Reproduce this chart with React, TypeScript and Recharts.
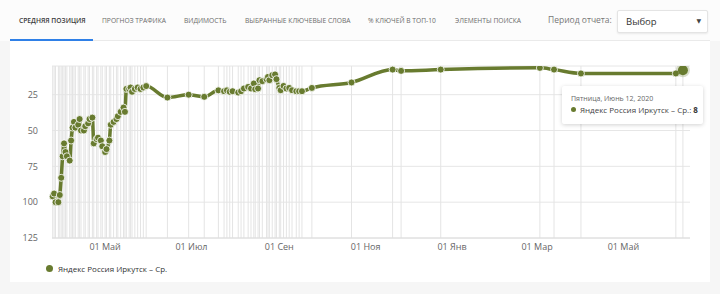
import { LineChart, Line, XAxis, YAxis, CartesianGrid, ReferenceLine, Tooltip } from 'recharts';

const tabs = ['СРЕДНЯЯ ПОЗИЦИЯ', 'ПРОГНОЗ ТРАФИКА', 'ВИДИМОСТЬ', 'ВЫБРАННЫЕ КЛЮЧЕВЫЕ СЛОВА', '% КЛЮЧЕЙ В ТОП-10', 'ЭЛЕМЕНТЫ ПОИСКА'];
const tabLeft = [19, 102, 184, 245, 368, 455];
const seriesName = 'Яндекс Россия Иркутск – Ср.';

const dates = [
    '2019-03-25', '2019-03-26', '2019-03-27', '2019-03-29', '2019-03-30', '2019-03-31', '2019-04-01', '2019-04-02',
    '2019-04-03', '2019-04-04', '2019-04-06', '2019-04-07', '2019-04-08', '2019-04-09', '2019-04-10', '2019-04-12',
    '2019-04-13', '2019-04-14', '2019-04-16', '2019-04-17', '2019-04-19', '2019-04-20', '2019-04-22', '2019-04-23',
    '2019-04-25', '2019-04-26', '2019-04-28', '2019-04-29', '2019-05-01', '2019-05-02', '2019-05-04', '2019-05-05',
    '2019-05-07', '2019-05-09', '2019-05-10', '2019-05-12', '2019-05-14', '2019-05-15', '2019-05-16', '2019-05-18',
    '2019-05-19', '2019-05-20', '2019-05-22', '2019-05-24', '2019-05-26', '2019-05-28', '2019-05-30',
    '2019-06-14', '2019-06-29', '2019-07-10', '2019-07-20',
    '2019-07-24', '2019-07-26', '2019-07-28', '2019-07-30', '2019-08-03', '2019-08-05', '2019-08-07', '2019-08-10',
    '2019-08-12', '2019-08-14', '2019-08-15', '2019-08-17', '2019-08-18', '2019-08-20', '2019-08-23', '2019-08-24',
    '2019-08-25', '2019-08-27', '2019-08-29', '2019-08-30', '2019-09-01', '2019-09-02', '2019-09-04', '2019-09-06',
    '2019-09-08', '2019-09-10', '2019-09-13', '2019-09-15', '2019-09-17',
    '2019-09-24', '2019-10-22', '2019-11-20', '2019-11-26', '2019-12-24', '2020-03-03', '2020-03-13', '2020-04-01',
    '2020-06-07', '2020-06-12',
];

const positions = [
    96, 94, 100, 100, 95, 83, 68, 59,
    65, 68, 71, 57, 48, 44, 48, 46,
    42, 50, 50, 47, 45, 42, 41, 59,
    56, 55, 57, 61, 65, 63, 57, 46,
    44, 42, 40, 37, 34, 37, 21, 21,
    20, 23, 21, 20, 21, 20, 19,
    27, 25, 26.5, 22,
    22.6, 22, 23, 22.6, 23.5, 22.6, 20.7, 19.6,
    20.7, 17.2, 21.2, 20.7, 14.9, 15.6, 14.2, 12.6,
    14.9, 11.4, 10.9, 14.2, 20.3, 21.9, 18.9, 20.7,
    20.3, 21.9, 22.6, 22.6, 22.6,
    20.3, 16.5, 7.5, 8.4, 7.5, 6.3, 7.5, 10.2,
    10.2, 8,
];

const monthTicks = ['2019-05-01', '2019-07-01', '2019-09-01', '2019-11-01', '2020-01-01', '2020-03-01', '2020-05-01'];
const monthLabels = ['01 Май', '01 Июл', '01 Сен', '01 Ноя', '01 Янв', '01 Мар', '01 Май'];
const yTicks = [25, 50, 75, 100, 125];

const weekdayNames = ['Воскресенье', 'Понедельник', 'Вторник', 'Среда', 'Четверг', 'Пятница', 'Суббота'];
const monthNames = ['Январь', 'Февраль', 'Март', 'Апрель', 'Май', 'Июнь', 'Июль', 'Август', 'Сентябрь', 'Октябрь', 'Ноябрь', 'Декабрь'];

const LINE = '#687b2f';
const FONT = '"Open Sans", "DejaVu Sans", sans-serif';

const toTs = (s: string) => {
    const [y, m, d] = s.split('-').map(Number);
    return Date.UTC(y, m - 1, d);
};

const data = dates.map((d, i) => ({ t: toTs(d), pos: positions[i] }));
const tickTs = monthTicks.map(toTs);
const domainX = [Date.UTC(2019, 2, 24, 12), Date.UTC(2020, 5, 17)];

const fmtTick = (v: number) => monthLabels[tickTs.indexOf(v)] ?? '';

function TipBox({ active, payload }: any) {
    if (!active || !payload || !payload.length) return null;
    const p = payload[0].payload;
    const d = new Date(p.t);
    const label = `${weekdayNames[d.getUTCDay()]}, ${monthNames[d.getUTCMonth()]} ${d.getUTCDate()}, ${d.getUTCFullYear()}`;
    return (
        <div style={{
            width: 141, height: 38, boxSizing: 'border-box', background: '#fff', borderRadius: 2,
            boxShadow: '0 1px 4px rgba(0,0,0,0.18)', padding: '8px 0 0 9px', fontFamily: FONT,
        }}>
            <div style={{ fontSize: 7, color: '#666', lineHeight: '9px' }}>{label}</div>
            <div style={{ fontSize: 8, color: '#444', lineHeight: '12px', marginTop: 1, whiteSpace: 'nowrap' }}>
                <span style={{ display: 'inline-block', width: 5, height: 5, borderRadius: 3, background: LINE, marginRight: 4, verticalAlign: 1 }}></span>
                {seriesName}: <b style={{ color: '#333' }}>{p.pos}</b>
            </div>
        </div>
    );
}

export default function App() {
    return (
        <div style={{ position: 'absolute', left: 0, top: 0, width: 720, height: 294, background: '#f6f6f6', fontFamily: FONT, overflow: 'hidden' }}>
            {/* header strip */}
            <div style={{ position: 'absolute', left: 0, top: 0, width: 720, height: 41, background: '#fcfcfc' }} />
            <div style={{ position: 'absolute', left: 10, top: 41, width: 700, height: 241, background: '#fff' }} />
            <div style={{ position: 'absolute', left: 10, top: 40, width: 700, height: 1, background: '#eaeaea' }} />
            <div style={{ position: 'absolute', left: 10, top: 39, width: 83, height: 2, background: '#2f80e7' }} />

            {tabs.map((t, i) => (
                <div key={t} style={{
                    position: 'absolute', left: tabLeft[i], top: 16, lineHeight: '9px',
                    fontSize: 6.7, color: i === 0 ? '#3a3a3a' : '#6a6a6a', fontWeight: i === 0 ? 600 : 400,
                    whiteSpace: 'nowrap',
                }}>{t}</div>
            ))}

            <div style={{ position: 'absolute', left: 548, top: 14, fontSize: 8.5, color: '#777' }}>Период отчета:</div>
            <div style={{
                position: 'absolute', left: 617, top: 10, width: 91, height: 23, boxSizing: 'border-box',
                background: '#fff', border: '1px solid #e4e4e4', borderRadius: 2, boxShadow: '0 1px 2px rgba(0,0,0,0.08)',
            }}>
                <span style={{ position: 'absolute', left: 8, top: 4, fontSize: 9.5, color: '#333' }}>Выбор</span>
                <span style={{ position: 'absolute', right: 6, top: 6, fontSize: 6, color: '#444' }}>▼</span>
            </div>

            <div style={{ position: 'absolute', left: 0, top: 0 }}>
                <LineChart width={720} height={294} data={data} margin={{ top: 66, right: 30, bottom: 36, left: 12 }}>
                    <CartesianGrid vertical={false} stroke="#e6e6e6" />
                    <XAxis
                        dataKey="t"
                        type="number"
                        scale="time"
                        domain={domainX}
                        ticks={tickTs}
                        tickFormatter={fmtTick}
                        interval={0}
                        height={20}
                        tickLine={false}
                        tickSize={0}
                        tickMargin={6}
                        axisLine={{ stroke: '#dcdcdc' }}
                        tick={{ fontSize: 9, fill: '#666', fontFamily: FONT }}
                    />
                    <YAxis
                        reversed
                        type="number"
                        domain={[5, 125]}
                        ticks={yTicks}
                        allowDataOverflow
                        width={40}
                        tickLine={false}
                        tickSize={0}
                        tickMargin={14}
                        axisLine={false}
                        tick={{ fontSize: 9, fill: '#666', fontFamily: FONT }}
                    />
                    {data.map((d) => (
                        <ReferenceLine key={d.t} x={d.t} stroke="#e4e4e4" strokeWidth={1} />
                    ))}
                    <Tooltip
                        content={<TipBox />}
                        defaultIndex={data.length - 1}
                        active
                        cursor={false}
                        position={{ x: 562, y: 86 }}
                        isAnimationActive={false}
                        wrapperStyle={{ outline: 'none' }}
                    />
                    <Line
                        type="monotone"
                        dataKey="pos"
                        name={seriesName}
                        stroke={LINE}
                        strokeWidth={3.5}
                        dot={{ r: 3.5, fill: LINE, stroke: '#fff', strokeWidth: 0.8 }}
                        activeDot={{ r: 5, fill: LINE, stroke: 'rgba(104,123,47,0.25)', strokeWidth: 4 }}
                        isAnimationActive={false}
                    />
                </LineChart>
            </div>

            <div style={{ position: 'absolute', left: 46, top: 263, display: 'flex', alignItems: 'center', fontSize: 8, color: '#333' }}>
                <span style={{ display: 'inline-block', width: 7, height: 7, borderRadius: 4, background: LINE, marginRight: 5 }}></span>
                {seriesName}
            </div>
        </div>
    );
}
